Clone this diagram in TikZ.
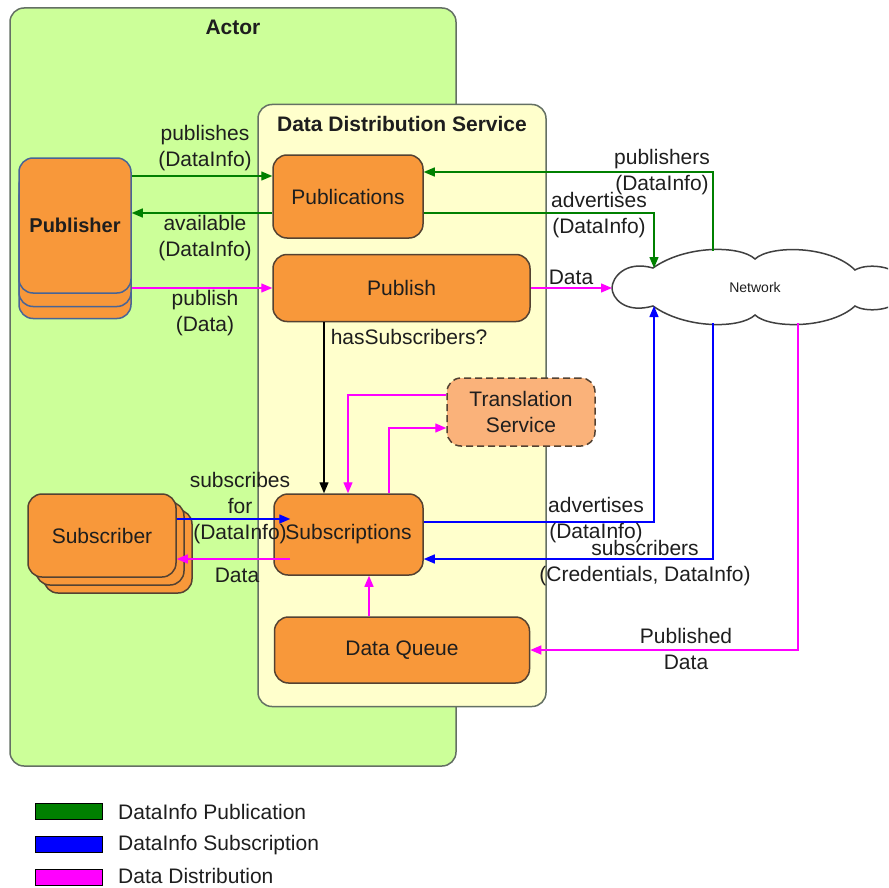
\documentclass[tikz,border=0pt]{standalone}
\usepackage{fontspec}
\setmainfont{Liberation Sans}
\usetikzlibrary{arrows.meta}

\definecolor{actorfill}{RGB}{204,255,153}
\definecolor{ddsfill}{RGB}{255,255,204}
\definecolor{boxfill}{RGB}{248,152,58}
\definecolor{transfill}{RGB}{250,178,122}
\definecolor{boxedge}{RGB}{84,66,50}
\definecolor{pubedge}{RGB}{72,100,150}
\definecolor{frameedge}{RGB}{100,112,100}
\definecolor{flowgreen}{RGB}{0,128,0}
\definecolor{flowblue}{RGB}{0,0,255}
\definecolor{flowpink}{RGB}{255,0,255}
\definecolor{ink}{RGB}{30,30,30}

\begin{document}
\begin{tikzpicture}[x=1pt,y=-1pt,
  every node/.style={font=\fontsize{21}{26}\selectfont, text=ink},
  container/.style={draw=frameedge, line width=1.5pt, rounded corners=14pt, inner sep=0pt},
  unit/.style={draw=boxedge, fill=boxfill, line width=1.5pt, rounded corners=14pt, inner sep=0pt, align=center},
  lbl/.style={align=center, inner sep=0pt},
  flow/.style={line width=1.4pt, -{Triangle[length=11pt,width=9pt]}},
  swatch/.style={draw=black, line width=0.8pt, minimum width=67pt, minimum height=16pt, inner sep=0pt},
  legtext/.style={anchor=west, inner sep=0pt},
]
\useasboundingbox (0,0) rectangle (888,888);

% containers
\node[container, fill=actorfill, minimum width=446pt, minimum height=758pt] (actor) at (233,387) {};
\node[inner sep=0pt, font=\fontsize{21}{26}\selectfont\bfseries] (actortitle) at (233,27) {Actor};
\node[container, fill=ddsfill, minimum width=288pt, minimum height=602pt] (dds) at (402,405.5) {};
\node[inner sep=0pt, font=\fontsize{21}{26}\selectfont\bfseries] (ddstitle) at (402,124) {Data Distribution Service};

% network cloud
\begin{scope}
\clip (0,0) rectangle (888,888);
\draw[draw=black!75, fill=white, line width=1.5pt]
  (653,268) .. controls (685,245) and (740,245) .. (755,259)
            .. controls (770,245) and (830,245) .. (855,270)
            .. controls (868,262) and (905,266) .. (905,288)
            .. controls (905,310) and (868,314) .. (855,306)
            .. controls (830,329) and (770,329) .. (755,315)
            .. controls (740,329) and (685,329) .. (653,306)
            .. controls (625,314) and (612,298) .. (612,288)
            .. controls (612,278) and (625,260) .. cycle;
\end{scope}
\node[inner sep=0pt, font=\fontsize{14}{16}\selectfont] (net) at (755,287) {Network};
\coordinate (netW) at (612,288);
\coordinate (netP) at (713,251);
\coordinate (netA) at (654,268);
\coordinate (netB) at (654,306);
\coordinate (netS) at (713,323);
\coordinate (netD) at (798,323);

% publisher stack
\node[unit, draw=pubedge, minimum width=112pt, minimum height=135pt] (pub3) at (75,251) {};
\node[unit, draw=pubedge, minimum width=112pt, minimum height=135pt] (pub2) at (75,239) {};
\node[unit, draw=pubedge, minimum width=112pt, minimum height=135pt, font=\fontsize{20}{24}\selectfont\bfseries] (pub) at (75,225.5) {Publisher};

% subscriber stack
\node[unit, minimum width=148pt, minimum height=83pt] (sub3) at (118,551.5) {};
\node[unit, minimum width=148pt, minimum height=83pt] (sub2) at (110,543.5) {};
\node[unit, minimum width=148pt, minimum height=83pt] (sub) at (102,535.5) {Subscriber};

% service units
\node[unit, minimum width=150pt, minimum height=83pt] (pubs) at (348,196.5) {Publications};
\node[unit, minimum width=257pt, minimum height=67pt] (publish) at (401.5,288) {Publish};
\node[unit, fill=transfill, dash pattern=on 7pt off 4pt, minimum width=148pt, minimum height=68pt] (trans) at (521,412) {Translation\\Service};
\node[unit, minimum width=149pt, minimum height=81pt] (subs) at (348.5,534.5) {Subscriptions};
\node[unit, minimum width=255pt, minimum height=66pt] (queue) at (402,650) {Data Queue};

% publication flows
\draw[flow, flowgreen] (pub.east |- 0,176) -- (pubs.west |- 0,176);
\draw[flow, flowgreen] (pubs.west |- 0,213) -- (pub.east |- 0,213);
\draw[flow, flowpink] (pub.east |- 0,288) -- (publish.west |- 0,288);
\draw[flow, flowgreen] (netP) |- (pubs.east |- 0,172);
\draw[flow, flowgreen] (pubs.east |- 0,213) -| (netA);
\draw[flow, flowpink] (publish.east) -- (netW);
\draw[flow, black] (publish.south -| 324,0) -- (subs.north -| 324,0);

% translation loop
\draw[flow, flowpink] (trans.west |- 0,395) -| (subs.north -| 348,0);
\draw[flow, flowpink] (subs.north -| 389,0) |- (trans.west |- 0,428);

% subscription flows
\draw[flow, flowblue, shorten >=-17pt] (sub.east |- 0,519) -- (subs.west |- 0,519);
\draw[flow, flowpink, shorten <=-17pt] (subs.west |- 0,559) -- (sub.east |- 0,559);
\draw[flow, flowblue] (subs.east |- 0,522) -| (netB);
\draw[flow, flowblue] (netS) |- (subs.east |- 0,559);
\draw[flow, flowpink] (netD) |- (queue.east);
\draw[flow, flowpink] (queue.north -| 369,0) -- (subs.south -| 369,0);

% flow labels
\node[lbl] (lpubs) at (205,148) {publishes\\(DataInfo)};
\node[lbl] (lavail) at (205,238) {available\\(DataInfo)};
\node[lbl] (lpublish) at (205,313) {publish\\(Data)};
\node[lbl] (lpublishers) at (662,172) {publishers\\(DataInfo)};
\node[lbl] (ladv1) at (599,215) {advertises\\(DataInfo)};
\node[lbl] (ldata1) at (571,277) {Data};
\node[lbl] (lhas) at (409,337) {hasSubscribers?};
\node[lbl] (lsubfor) at (240,508.5) {subscribes\\for\\(DataInfo)};
\node[lbl] (ldata2) at (237,575) {Data};
\node[lbl] (ladv2) at (596,520) {advertises\\(DataInfo)};
\node[lbl] (lsubscr) at (645,563.5) {subscribers\\(Credentials, DataInfo)};
\node[lbl] (lpubdata) at (686,649) {Published\\Data};

% legend
\node[swatch, fill=flowgreen] (k1) at (68.5,811) {};
\node[swatch, fill=flowblue] (k2) at (68.5,844.5) {};
\node[swatch, fill=flowpink] (k3) at (68.5,877) {};
\node[legtext] (t1) at (118,812) {DataInfo Publication};
\node[legtext] (t2) at (118,845) {DataInfo Subscription};
\node[legtext] (t3) at (118,876) {Data Distribution};
\end{tikzpicture}
\end{document}
